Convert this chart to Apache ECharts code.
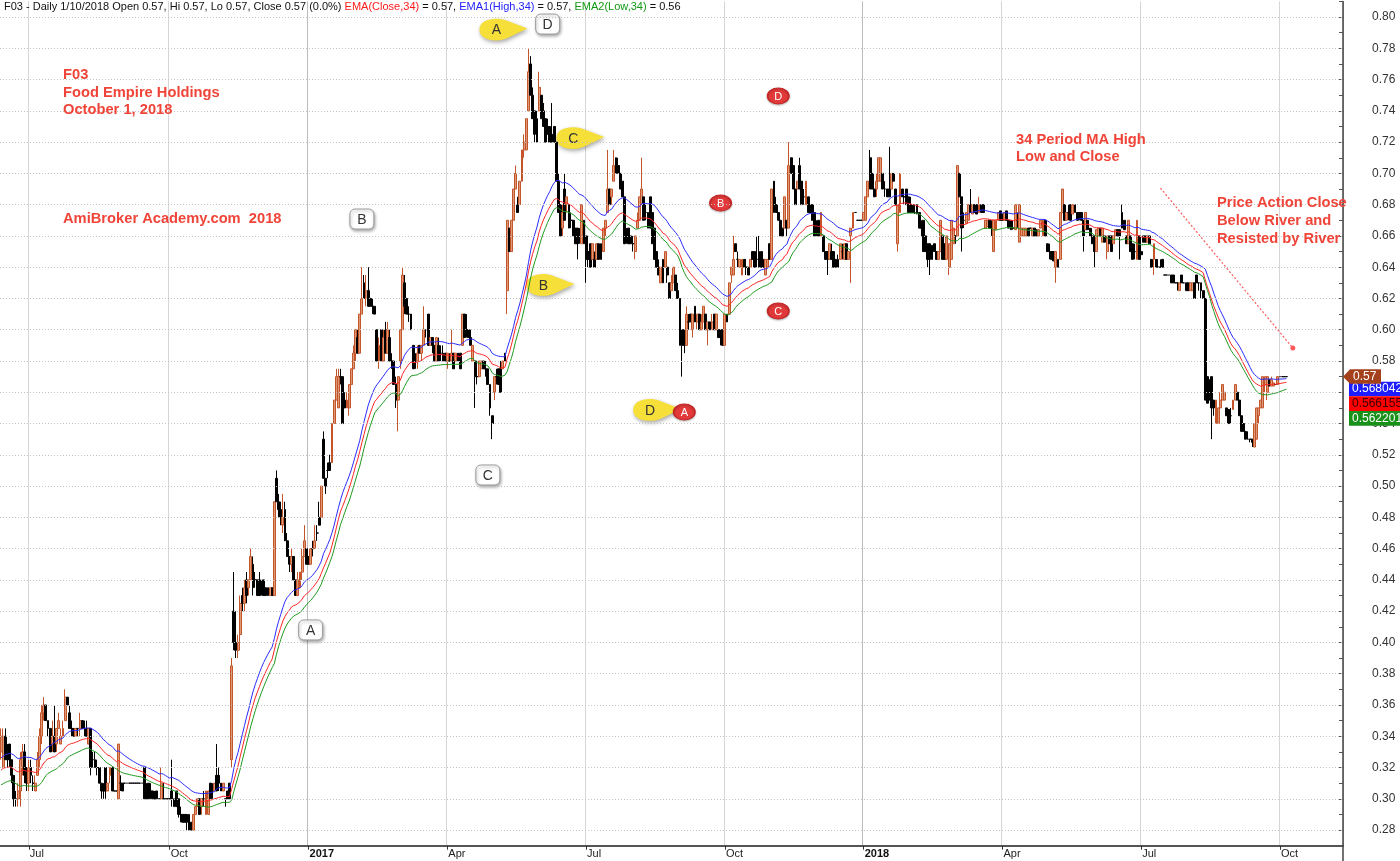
<!DOCTYPE html>
<html><head><meta charset="utf-8">
<script src="https://cdn.jsdelivr.net/npm/echarts@6/dist/echarts.min.js"></script>
<style>html,body{margin:0;padding:0;background:#fff}#c{width:1400px;height:861px}</style>
</head><body><div id="c"></div>
<script>
// ---------- DATA ----------
const firstTradingDay = '2016-06-14';
const emptyBarsAfter = 26;
// daily bars: [open, high, low, close]
const barsJun16toDec16 = [
[.33,.345,.325,.34],[.32,.345,.32,.34],[.34,.345,.325,.325],[.33,.335,.32,.325],[.335,.335,.32,.325],
[.325,.325,.31,.315],[.315,.315,.295,.30],[.30,.305,.295,.30],[.30,.31,.295,.305],[.305,.33,.295,.325],
[.32,.335,.315,.33],[.33,.335,.31,.315],[.32,.32,.305,.31],[.31,.325,.305,.32],[.32,.325,.31,.315],
[.31,.315,.305,.31],[.305,.315,.305,.31],[.315,.33,.315,.325],[.325,.345,.32,.34],[.34,.36,.335,.355],
[.355,.365,.35,.36],[.36,.36,.35,.35],[.35,.35,.34,.345],[.345,.345,.33,.33],[.335,.35,.33,.34],
[.34,.36,.33,.33],[.335,.345,.33,.345],[.345,.355,.345,.35],[.335,.345,.335,.34],[.34,.35,.34,.345],
[.35,.37,.35,.365],[.365,.365,.36,.36],[.355,.36,.345,.345],[.345,.35,.34,.345],[.345,.345,.34,.34],
[.34,.345,.34,.345],[.345,.345,.34,.345],[.345,.355,.34,.35],[.35,.35,.345,.345],[.345,.35,.34,.345],
[.345,.35,.34,.34],[.335,.345,.335,.345],[.345,.345,.315,.32],[.325,.33,.32,.325],[.325,.33,.32,.32],
[.32,.325,.315,.32],[.32,.32,.31,.31],[.31,.31,.30,.305],[.305,.31,.30,.305],[.32,.32,.30,.305],
[.305,.31,.305,.31],[.315,.32,.31,.32],[.32,.32,.305,.305],[.305,.305,.305,.305],[.305,.305,.305,.305],
[.30,.335,.30,.335],[.31,.315,.305,.31],[.31,.31,.305,.305],[.31,.31,.31,.31],[.31,.31,.31,.31],
[.31,.31,.31,.31],[.31,.31,.31,.31],[.31,.31,.31,.31],[.31,.31,.31,.31],[.31,.31,.31,.31],
[.31,.31,.31,.31],[.31,.31,.31,.31],[.32,.32,.30,.30],[.305,.31,.30,.30],[.31,.31,.30,.30],
[.305,.31,.30,.305],[.305,.305,.30,.30],[.30,.305,.30,.30],[.305,.305,.30,.30],[.30,.30,.30,.30],
[.30,.32,.30,.31],[.30,.31,.30,.30],[.30,.30,.30,.30],[.30,.30,.30,.30],[.30,.30,.30,.30],
[.305,.325,.295,.30],[.30,.30,.295,.295],[.305,.305,.295,.295],[.30,.30,.288,.29],[.29,.295,.285,.29],
[.29,.29,.285,.285],[.29,.29,.285,.285],[.29,.29,.28,.285],[.29,.29,.28,.28],[.285,.285,.28,.28],
[.28,.29,.28,.29],[.29,.295,.29,.295],[.295,.30,.295,.30],[.30,.30,.29,.29],[.295,.30,.29,.30],
[.30,.305,.295,.30],[.29,.305,.29,.305],[.29,.305,.29,.305],[.31,.31,.30,.30],[.305,.31,.30,.305],
[.305,.31,.305,.31],[.315,.335,.305,.305],[.315,.32,.305,.31],[.31,.31,.305,.305],[.305,.31,.305,.31],
[.30,.30,.295,.30],[.305,.305,.30,.30],[.31,.31,.30,.30],[.325,.39,.32,.385]
];
const barsNov16toApr17 = [
[.42,.445,.395,.40],[.40,.42,.39,.395],[.395,.405,.39,.40],[.405,.43,.40,.425],[.43,.435,.42,.425],
[.425,.44,.42,.435],[.44,.445,.425,.43],[.435,.44,.43,.44],[.44,.46,.44,.455],[.45,.455,.43,.435],
[.44,.445,.435,.44],[.44,.44,.43,.43],[.44,.445,.43,.43],[.435,.44,.43,.435],[.44,.44,.43,.43],
[.435,.435,.43,.43],[.435,.435,.43,.43],[.43,.435,.43,.435],[.435,.435,.43,.43],[.43,.49,.43,.49],
[.505,.51,.49,.49],[.49,.495,.48,.485],[.485,.49,.475,.48],[.475,.495,.47,.48],[.485,.49,.465,.465],
[.465,.47,.455,.455],[.455,.455,.445,.45],[.45,.46,.445,.455],[.455,.455,.44,.44],[.44,.44,.43,.43],
[.43,.445,.43,.44],[.435,.445,.435,.445],[.445,.46,.44,.455],[.455,.475,.455,.465],[.46,.46,.45,.45],
[.455,.455,.45,.45],[.45,.46,.45,.46],[.46,.465,.455,.46],[.46,.475,.46,.465],[.47,.475,.465,.47],
[.48,.49,.475,.475],[.48,.50,.48,.50],[.53,.535,.505,.505],[.505,.505,.495,.50],[.51,.515,.505,.51],
[.515,.52,.51,.51],[.515,.54,.515,.54],[.54,.555,.54,.555],[.555,.575,.555,.57],[.55,.575,.55,.57],
[.57,.575,.565,.57],[.57,.57,.54,.54],[.555,.56,.55,.55],[.55,.56,.55,.555],[.55,.565,.545,.565],
[.565,.575,.565,.575],[.575,.59,.575,.585],[.585,.60,.58,.60],[.595,.60,.585,.585],[.585,.61,.585,.61],
[.61,.64,.61,.62],[.63,.635,.62,.62],[.62,.635,.615,.625],[.625,.64,.615,.615],[.62,.62,.615,.615],
[.615,.62,.61,.615],[.615,.615,.61,.61],[.60,.60,.58,.58],[.58,.595,.575,.59],[.60,.60,.58,.58],
[.58,.60,.58,.595],[.60,.605,.585,.585],[.585,.605,.585,.60],[.595,.60,.58,.58],[.58,.585,.575,.58],
[.58,.58,.565,.565],[.565,.57,.55,.555],[.555,.57,.535,.57],[.58,.60,.575,.60],[.60,.64,.60,.635],
[.63,.635,.61,.615],[.62,.62,.61,.61],[.61,.615,.605,.61],[.61,.61,.60,.60],[.59,.59,.575,.575],
[.58,.585,.575,.58],[.58,.59,.575,.585],[.59,.59,.585,.585],[.585,.59,.58,.59],[.59,.615,.59,.60],
[.60,.60,.595,.60],[.61,.61,.59,.59],[.59,.595,.59,.595],[.595,.595,.585,.59],[.59,.59,.58,.58],
[.58,.595,.58,.595],[.59,.595,.58,.58],[.585,.59,.58,.585],[.585,.59,.58,.58],[.585,.585,.58,.58],
[.58,.585,.575,.585],[.58,.585,.58,.58],[.58,.60,.58,.585],[.585,.585,.575,.575],[.58,.585,.58,.585],
[.585,.585,.58,.58],[.585,.585,.575,.575],[.59,.61,.59,.61]
];
const barsApr17toSep17 = [
[.61,.61,.595,.595],[.60,.61,.595,.60],[.60,.60,.595,.595],[.595,.60,.59,.59],[.58,.59,.58,.59],
[.58,.58,.55,.57],[.57,.575,.565,.57],[.57,.58,.57,.58],[.575,.58,.575,.58],[.58,.58,.575,.575],
[.575,.58,.57,.575],[.575,.575,.565,.565],[.565,.565,.545,.55],[.545,.545,.53,.54],[.56,.57,.555,.57],
[.57,.575,.565,.57],[.575,.575,.565,.565],[.575,.58,.56,.56],[.575,.58,.575,.58],[.585,.585,.58,.58],
[.625,.67,.61,.67],[.665,.665,.65,.65],[.65,.67,.65,.67],[.67,.69,.67,.69],[.69,.705,.69,.70],
[.68,.685,.675,.675],[.68,.695,.68,.695],[.695,.715,.695,.715],[.715,.725,.71,.72],[.715,.735,.715,.735],
[.74,.78,.74,.765],[.77,.775,.75,.75],[.75,.755,.735,.735],[.74,.74,.72,.725],[.735,.74,.72,.72],
[.74,.765,.74,.755],[.75,.75,.735,.735],[.74,.745,.73,.73],[.735,.735,.72,.72],[.73,.735,.725,.725],
[.73,.73,.72,.72],[.725,.745,.72,.72],[.73,.73,.72,.72],[.72,.72,.695,.695],[.695,.70,.675,.675],
[.68,.68,.66,.66],[.665,.68,.66,.675],[.69,.70,.67,.67],[.68,.685,.675,.685],[.68,.68,.665,.665],
[.67,.675,.665,.67],[.67,.67,.66,.66],[.665,.665,.655,.655],[.665,.665,.645,.655],[.66,.665,.655,.66],
[.655,.68,.655,.68],[.67,.67,.655,.655],[.66,.66,.63,.645],[.65,.655,.64,.645],[.655,.655,.64,.64],
[.645,.655,.645,.655],[.645,.65,.64,.64],[.645,.655,.645,.655],[.655,.655,.645,.645],[.655,.655,.645,.645],
[.65,.665,.65,.665],[.665,.67,.66,.67],[.675,.715,.675,.69],[.69,.69,.68,.68],[.685,.69,.68,.69],
[.695,.715,.695,.705],[.71,.71,.70,.70],[.705,.71,.70,.70],[.70,.70,.69,.69],[.695,.695,.685,.685],
[.685,.685,.655,.655],[.66,.665,.655,.66],[.665,.665,.655,.655],[.66,.66,.655,.655],[.655,.66,.65,.655],
[.65,.66,.645,.66],[.665,.675,.665,.67],[.67,.685,.67,.685],[.68,.71,.68,.69],[.685,.685,.67,.67],
[.675,.68,.67,.675],[.675,.675,.665,.665],[.685,.685,.665,.665],[.675,.675,.655,.655],[.665,.665,.645,.645],
[.65,.65,.64,.64],[.64,.645,.635,.635],[.63,.64,.63,.64],[.645,.645,.63,.63],[.64,.65,.64,.65],
[.64,.64,.63,.635],[.63,.63,.62,.62],[.625,.635,.625,.63],[.63,.64,.63,.64],[.635,.635,.625,.625],
[.625,.63,.62,.62],[.62,.62,.59,.59],[.60,.60,.57,.59],[.60,.60,.585,.59],[.59,.615,.59,.61],
[.605,.61,.60,.605]
];
const barsSep17toFeb18 = [
[.61,.61,.605,.605],[.60,.61,.595,.61],[.615,.615,.605,.605],[.605,.61,.60,.61],[.61,.61,.60,.60],
[.60,.61,.60,.605],[.605,.615,.605,.615],[.61,.61,.60,.60],[.60,.605,.59,.605],[.605,.605,.60,.60],
[.60,.61,.60,.605],[.61,.61,.60,.60],[.60,.61,.60,.61],[.60,.60,.595,.595],[.60,.60,.59,.595],
[.60,.60,.59,.59],[.59,.61,.59,.61],[.61,.61,.605,.605],[.61,.63,.61,.63],[.635,.64,.63,.64],
[.635,.66,.635,.645],[.655,.655,.65,.65],[.645,.65,.64,.645],[.64,.645,.64,.645],[.635,.645,.635,.645],
[.645,.645,.64,.64],[.64,.645,.635,.64],[.64,.64,.635,.635],[.64,.645,.64,.645],[.65,.65,.645,.645],
[.65,.65,.64,.64],[.645,.66,.64,.645],[.65,.66,.64,.64],[.65,.65,.64,.64],[.645,.645,.64,.64],
[.635,.645,.635,.645],[.64,.645,.64,.645],[.655,.655,.645,.645],[.645,.69,.645,.69],[.695,.695,.675,.675],
[.68,.685,.675,.675],[.675,.675,.67,.67],[.67,.67,.66,.66],[.665,.665,.66,.66],[.665,.685,.665,.685],
[.67,.67,.66,.665],[.665,.72,.665,.705],[.71,.71,.70,.70],[.705,.705,.69,.69],[.69,.69,.68,.68],
[.69,.695,.69,.695],[.705,.71,.69,.69],[.695,.695,.68,.68],[.685,.69,.68,.685],[.68,.695,.68,.695],
[.685,.685,.675,.675],[.68,.68,.675,.675],[.68,.68,.67,.67],[.675,.675,.66,.66],[.665,.67,.66,.665],
[.67,.67,.66,.66],[.66,.675,.66,.675],[.66,.66,.65,.65],[.65,.65,.645,.645],[.65,.65,.635,.645],
[.645,.655,.645,.655],[.65,.655,.645,.645],[.65,.65,.64,.64],[.645,.645,.64,.64],[.645,.648,.64,.64],
[.645,.655,.645,.655],[.65,.655,.645,.65],[.645,.655,.645,.655],[.655,.655,.645,.645],[.645,.65,.645,.65],
[.66,.665,.63,.665],[.665,.675,.665,.675],[.675,.675,.675,.675],[.67,.67,.67,.67],[.67,.67,.67,.67],
[.67,.67,.67,.67],[.67,.675,.67,.675],[.67,.685,.67,.685],[.685,.695,.685,.695],[.71,.715,.69,.69],
[.70,.70,.69,.69],[.69,.69,.685,.685],[.69,.70,.685,.695],[.695,.71,.695,.71],[.695,.71,.695,.71],
[.70,.70,.69,.69],[.69,.695,.685,.69],[.69,.69,.685,.685],[.69,.717,.685,.685],[.69,.70,.69,.70],
[.70,.70,.695,.695],[.69,.69,.68,.68],[.655,.68,.65,.68],[.675,.70,.675,.70],[.69,.69,.685,.685],
[.685,.69,.68,.685],[.69,.69,.68,.68],[.685,.685,.675,.675],[.68,.685,.675,.675],[.68,.68,.675,.675],
[.675,.68,.674,.675],[.68,.68,.674,.674],[.675,.675,.665,.665]
];
const barsFeb18toJul18 = [
[.665,.67,.66,.665],[.67,.67,.65,.65],[.66,.66,.65,.65],[.655,.655,.64,.645],[.655,.655,.635,.645],
[.654,.654,.645,.645],[.655,.655,.65,.65],[.65,.65,.645,.645],[.645,.65,.645,.65],[.65,.67,.65,.67],
[.66,.66,.645,.645],[.655,.655,.645,.645],[.645,.66,.645,.66],[.64,.655,.635,.655],[.645,.67,.645,.67],
[.655,.665,.655,.665],[.66,.66,.655,.66],[.66,.705,.66,.705],[.70,.70,.685,.685],[.685,.685,.65,.665],
[.67,.675,.665,.67],[.668,.675,.668,.675],[.67,.68,.67,.68],[.68,.69,.675,.675],[.674,.68,.674,.68],
[.68,.68,.675,.675],[.68,.68,.674,.674],[.675,.685,.675,.68],[.68,.68,.675,.675],[.68,.68,.675,.675],
[.665,.67,.665,.67],[.666,.67,.666,.67],[.67,.67,.665,.665],[.665,.67,.66,.665],[.65,.67,.65,.67],
[.664,.67,.664,.67],[.67,.675,.67,.675],[.676,.676,.67,.67],[.674,.674,.67,.67],[.67,.675,.67,.675],
[.676,.676,.67,.67],[.67,.67,.665,.665],[.67,.67,.664,.664],[.665,.67,.664,.665],[.664,.68,.664,.68],
[.67,.675,.665,.67],[.656,.68,.656,.68],[.66,.665,.66,.665],[.66,.665,.66,.665],[.66,.665,.66,.665],
[.665,.665,.66,.66],[.665,.665,.665,.665],[.66,.665,.66,.665],[.665,.665,.66,.66],[.664,.664,.66,.66],
[.66,.664,.66,.664],[.665,.67,.665,.67],[.66,.67,.66,.67],[.67,.67,.66,.66],[.655,.655,.65,.65],
[.65,.655,.645,.65],[.65,.65,.645,.645],[.65,.65,.644,.644],[.64,.65,.63,.65],[.645,.645,.64,.64],
[.645,.675,.645,.675],[.675,.69,.675,.69],[.68,.68,.67,.67],[.67,.675,.67,.675],[.675,.68,.67,.675],
[.68,.68,.67,.67],[.674,.68,.674,.68],[.68,.68,.675,.675],[.675,.675,.67,.67],[.675,.675,.67,.675],
[.675,.675,.67,.67],[.67,.67,.65,.66],[.664,.675,.664,.675],[.67,.67,.664,.664],[.665,.665,.66,.66],
[.66,.665,.655,.655],[.66,.66,.64,.65],[.65,.664,.65,.664],[.66,.665,.66,.665],[.665,.665,.66,.66],
[.656,.665,.656,.665],[.66,.66,.656,.656],[.65,.66,.645,.66],[.66,.66,.655,.655],[.66,.66,.65,.65],
[.655,.66,.655,.66],[.66,.664,.66,.664],[.664,.664,.66,.66],[.664,.664,.645,.66],[.675,.68,.665,.665],
[.67,.67,.664,.664],[.66,.66,.655,.655],[.655,.67,.655,.67],[.66,.66,.65,.65],[.655,.655,.645,.645],
[.65,.655,.645,.65],[.645,.67,.645,.67],[.66,.66,.645,.645],[.65,.65,.648,.648],[.66,.66,.656,.656],
[.66,.66,.656,.656],[.656,.66,.656,.66]
];
const barsJul18toOct18 = [
[.66,.66,.655,.655],[.645,.645,.64,.64],[.645,.655,.635,.655],[.645,.645,.64,.64],[.64,.64,.64,.64],
[.64,.645,.64,.64],[.645,.645,.64,.64],[.635,.635,.635,.635],[.635,.635,.635,.635],[.635,.635,.635,.635],
[.635,.635,.63,.63],[.635,.635,.63,.63],[.63,.63,.63,.63],[.63,.63,.625,.63],[.625,.63,.625,.63],
[.635,.635,.63,.63],[.63,.63,.63,.63],[.63,.63,.625,.625],[.63,.63,.625,.625],[.625,.63,.625,.63],
[.625,.63,.625,.63],[.63,.63,.62,.62],[.635,.635,.63,.63],[.63,.63,.625,.63],[.63,.63,.62,.625],
[.625,.625,.62,.62],[.62,.62,.555,.555],[.57,.57,.553,.553],[.568,.568,.555,.555],[.57,.57,.53,.55],
[.555,.555,.545,.55],[.54,.555,.54,.555],[.54,.55,.54,.55],[.55,.56,.55,.555],[.555,.565,.555,.565],
[.555,.56,.555,.56],[.55,.55,.545,.545],[.549,.549,.54,.54],[.545,.55,.54,.545],[.549,.555,.549,.555],
[.555,.565,.555,.565],[.56,.56,.555,.555],[.555,.555,.545,.545],[.545,.545,.535,.535],[.54,.54,.535,.535],
[.535,.535,.53,.53],[.53,.535,.53,.53],[.53,.53,.528,.53],[.53,.53,.525,.528],[.525,.54,.525,.54],
[.53,.55,.53,.55],[.545,.55,.54,.55],[.55,.555,.55,.555],[.55,.57,.55,.57],[.565,.57,.56,.57],
[.56,.57,.555,.57],[.568,.568,.564,.564],[.564,.57,.564,.568],[.564,.566,.564,.566],[.565,.565,.565,.565],
[.565,.57,.565,.57],[.57,.57,.57,.57],[.57,.57,.57,.57],[.57,.57,.57,.57],[.57,.57,.57,.57]
];
// EMA(34) starting values read at the left edge (line levels before the first bar shown)
const emaPeriod = 34;
const emaSeedHigh = 0.325, emaSeedClose = 0.317, emaSeedLow = 0.308;
const yGridLevels = [0.28,0.30,0.32,0.34,0.36,0.38,0.40,0.42,0.44,0.46,0.48,0.50,0.52,0.54,0.56,0.58,0.60,0.62,0.64,0.66,0.68,0.70,0.72,0.74,0.76,0.78,0.80];
const lastPriceText = '0.57';
const lastEmaTexts = ['0.568042','0.566155','0.562201']; // High, Close, Low
// annotation tags: [letter, bar index, price]
const yellowTags = [['A',232,0.792],['C',268,0.7226],['B',254,0.6286],['D',304,0.5487]];
const whiteTags  = [['D',256,0.7955],['B',169,0.6708],['C',228,0.5071],['A',145,0.408]];
const redTags    = [['D',364,0.7495],['B',337,0.681],['C',364,0.612],['A',320,0.5474]];
const arrowFrom = [543,0.6906], arrowTo = [605,0.5883];

// ---------- BUILD ----------
const bars = [].concat(barsJun16toDec16,barsNov16toApr17,barsApr17toSep17,barsSep17toFeb18,barsFeb18toJul18,barsJul18toOct18);
const dates = [];
{ const d = new Date(firstTradingDay+'T00:00:00Z');
  while (dates.length < bars.length + emptyBarsAfter) {
    const wd = d.getUTCDay(); if (wd !== 0 && wd !== 6) dates.push(new Date(d));
    d.setUTCDate(d.getUTCDate()+1);
  } }
const cats = dates.map(x => x.toISOString().slice(0,10));
const qStart = new Set();
dates.forEach((x,i)=>{ if(i>0 && x.getUTCMonth()!==dates[i-1].getUTCMonth() && x.getUTCMonth()%3===0) qStart.add(i); });
const monthNames = {3:'Apr',6:'Jul',9:'Oct'};
const candle = bars.map(b=>[b[0],b[3],b[2],b[1]]);
function ema(vals, seed){ const a = 2/(emaPeriod+1); let e = seed; return vals.map(v=>{ e = e + a*(v-e); return +e.toFixed(6); }); }
const pad = Array(emptyBarsAfter).fill(null);
const emaH = ema(bars.map(b=>b[1]), emaSeedHigh).concat(pad);
const emaC = ema(bars.map(b=>b[3]), emaSeedClose).concat(pad);
const emaL = ema(bars.map(b=>b[2]), emaSeedLow).concat(pad);

// custom bubble shape (callout with tail to the right)
echarts.graphic.registerShape('calloutBubble', echarts.graphic.extendShape({
  shape:{},
  buildPath(ctx){ ctx.moveTo(10,-9); ctx.bezierCurveTo(0,-13,-17,-11,-17,0); ctx.bezierCurveTo(-17,11,0,13,10,9); ctx.lineTo(31,-1); ctx.closePath(); }
}));

const FONT = '"Liberation Sans", Arial, sans-serif';
const chart = echarts.init(document.getElementById('c'), null, {renderer:'canvas'});
const option = {
  animation:false,
  backgroundColor:'#fff',
  grid:{left:0,right:57,top:1.4,bottom:15.3,containLabel:false,outerBoundsMode:'none'},
  xAxis:{type:'category',data:cats,boundaryGap:true,
    axisLine:{show:true,lineStyle:{color:'#555',width:2}},
    axisTick:{show:true,alignWithLabel:true,length:4,interval:(i)=>qStart.has(i),lineStyle:{color:'#333'}},
    axisLabel:{interval:(i)=>qStart.has(i),align:'left',margin:3,padding:[0,0,0,1],fontSize:11,color:'#222',fontFamily:FONT,
      formatter:(v,i)=>{ const d=dates[i]; const m=d.getUTCMonth(); return m===0?'{y|'+d.getUTCFullYear()+'}':monthNames[m]; },
      rich:{y:{fontWeight:'bold',fontSize:11,color:'#111',fontFamily:FONT}}},
    splitLine:{show:true,interval:(i)=>qStart.has(i),lineStyle:{color:['#d6d6d6','#d6d6d6','#bcbcbc','#d6d6d6'],width:1}}
  },
  yAxis:{type:'value',position:'right',min:0.27,max:0.81,interval:0.01,scale:true,
    axisLine:{show:true,lineStyle:{color:'#444',width:1.5}},
    axisTick:{show:true,inside:true,length:4,lineStyle:{color:'#555'}},
    axisLabel:{margin:29,fontSize:12,color:'#333',fontFamily:FONT,
      formatter:(v)=> (Math.round(v*100)%2===0) ? v.toFixed(2) : ''},
    splitLine:{show:false}
  },
  series:[
    {type:'line',data:cats.map(()=>null),z:0,silent:true,symbol:'none',
     markLine:{silent:true,symbol:'none',label:{show:false},animation:false,
       lineStyle:{type:[1,2],color:'#c2c2c2',width:1},data:yGridLevels.map(v=>({yAxis:v}))}},
    {type:'candlestick',data:candle,z:2,large:false,barWidth:2.4,
     itemStyle:{color:'#dc9a78',color0:'#000',borderColor:'#c4552b',borderColor0:'#000',borderColorDoji:'#000',borderWidth:1}},
    {type:'line',data:emaH,z:3,symbol:'none',showSymbol:false,lineStyle:{color:'#2b2bff',width:1},silent:true},
    {type:'line',data:emaC,z:3,symbol:'none',showSymbol:false,lineStyle:{color:'#ff2424',width:1},silent:true},
    {type:'line',data:emaL,z:3,symbol:'none',showSymbol:false,lineStyle:{color:'#1f9a1f',width:1},silent:true}
  ]
};
chart.setOption(option);

const px = (i,p)=>chart.convertToPixel({xAxisIndex:0,yAxisIndex:0},[i,p]);
const RED = '#f04438';
const g = [];
// header
g.push({type:'text',x:4,y:1,z:50,style:{font:'11px '+FONT,
  text:'{k|F03 - Daily 1/10/2018 Open 0.57, Hi 0.57, Lo 0.57, Close 0.57 (0.0%) }{r|EMA(Close,34)}{k| = 0.57, }{b|EMA1(High,34)}{k| = 0.57, }{g|EMA2(Low,34)}{k| = 0.56}',
  rich:{k:{fill:'#111',fontSize:11,fontFamily:FONT},r:{fill:'#ff1a1a',fontSize:11,fontFamily:FONT},b:{fill:'#2222ff',fontSize:11,fontFamily:FONT},g:{fill:'#119911',fontSize:11,fontFamily:FONT}}}});
// red notes
const notes = [
  ['F03',63,75],['Food Empire Holdings',63,93],['October 1, 2018',63,110],
  ['AmiBroker Academy.com  2018',63,219],
  ['34 Period MA High',1016,140],['Low and Close',1016,157],
  ['Price Action Close',1217,203],['Below River and',1217,221],['Resisted by River',1217,239]
];
notes.forEach(n=>g.push({type:'text',x:n[1],y:n[2],z:50,style:{text:n[0],fill:RED,font:'bold 14.7px '+FONT,textVerticalAlign:'middle'}}));
// dotted arrow
{ const a=px(arrowFrom[0],arrowFrom[1]), b=px(arrowTo[0],arrowTo[1]);
  g.push({type:'line',z:40,shape:{x1:a[0],y1:a[1],x2:b[0],y2:b[1]},style:{stroke:'#ff5a5a',lineWidth:1.2,lineDash:[2,2]}});
  g.push({type:'circle',z:40,shape:{cx:b[0],cy:b[1],r:2.5},style:{fill:'#ff5a5a'}}); }
// yellow bubbles
yellowTags.forEach(t=>{ const p=px(t[1],t[2]);
  g.push({type:'group',x:p[0],y:p[1],z:60,children:[
    {type:'calloutBubble',shape:{},
     style:{fill:'#f7df3a',shadowBlur:4,shadowColor:'rgba(0,0,0,0.35)',shadowOffsetY:2,shadowOffsetX:1}},
    {type:'text',style:{text:t[0],x:0,y:1,fill:'#333',font:'14px '+FONT,align:'center',verticalAlign:'middle'}}]}); });
// white boxes
whiteTags.forEach(t=>{ const p=px(t[1],t[2]);
  g.push({type:'group',x:p[0],y:p[1],z:60,children:[
    {type:'rect',shape:{x:-12,y:-10,width:24,height:20,r:5},
     style:{fill:'#fff',stroke:'#9a9a9a',lineWidth:1,shadowBlur:3,shadowColor:'rgba(0,0,0,0.3)',shadowOffsetY:2,shadowOffsetX:1}},
    {type:'text',style:{text:t[0],x:0,y:1,fill:'#333',font:'14px '+FONT,align:'center',verticalAlign:'middle'}}]}); });
// red badges
redTags.forEach(t=>{ const p=px(t[1],t[2]);
  g.push({type:'group',x:p[0],y:p[1],z:60,children:[
    {type:'circle',scaleX:1.35,shape:{cx:0,cy:0,r:8},style:{fill:'#e23a3a',stroke:'#c42424',lineWidth:1,shadowBlur:2,shadowColor:'rgba(0,0,0,0.25)',shadowOffsetY:1}},
    {type:'text',style:{text:t[0],x:0,y:0.5,fill:'#fff',font:'11px '+FONT,align:'center',verticalAlign:'middle'}}]}); });
// right-edge value labels
{ const y0 = px(bars.length-1, bars[bars.length-1][3])[1];
  const ax = 1343;
  const cols=[['#1c1cff','#fff'],['#ff0000','#3a0000'],['#179117','#fff']];
  lastEmaTexts.forEach((t,k)=>{ const yy=y0+5+k*14.7;
    g.push({type:'rect',z:70,shape:{x:ax+6,y:yy,width:60,height:14.7},style:{fill:cols[k][0]}});
    g.push({type:'text',z:71,style:{text:t,x:ax+9,y:yy+7.4,fill:cols[k][1],font:'12px '+FONT,verticalAlign:'middle'}}); });
  g.push({type:'polygon',z:72,shape:{points:[[ax,y0],[ax+7,y0-7.5],[ax+38,y0-7.5],[ax+38,y0+7],[ax+7,y0+7]]},style:{fill:'#a4401c'}});
  g.push({type:'text',z:73,style:{text:lastPriceText,x:ax+10,y:y0,fill:'#fff',font:'12px '+FONT,verticalAlign:'middle'}});
  g.push({type:'line',z:5,shape:{x1:ax,y1:845,x2:ax,y2:861},style:{stroke:'#444',lineWidth:1.5}});
}
chart.setOption({graphic:g});
</script>
</body></html>
